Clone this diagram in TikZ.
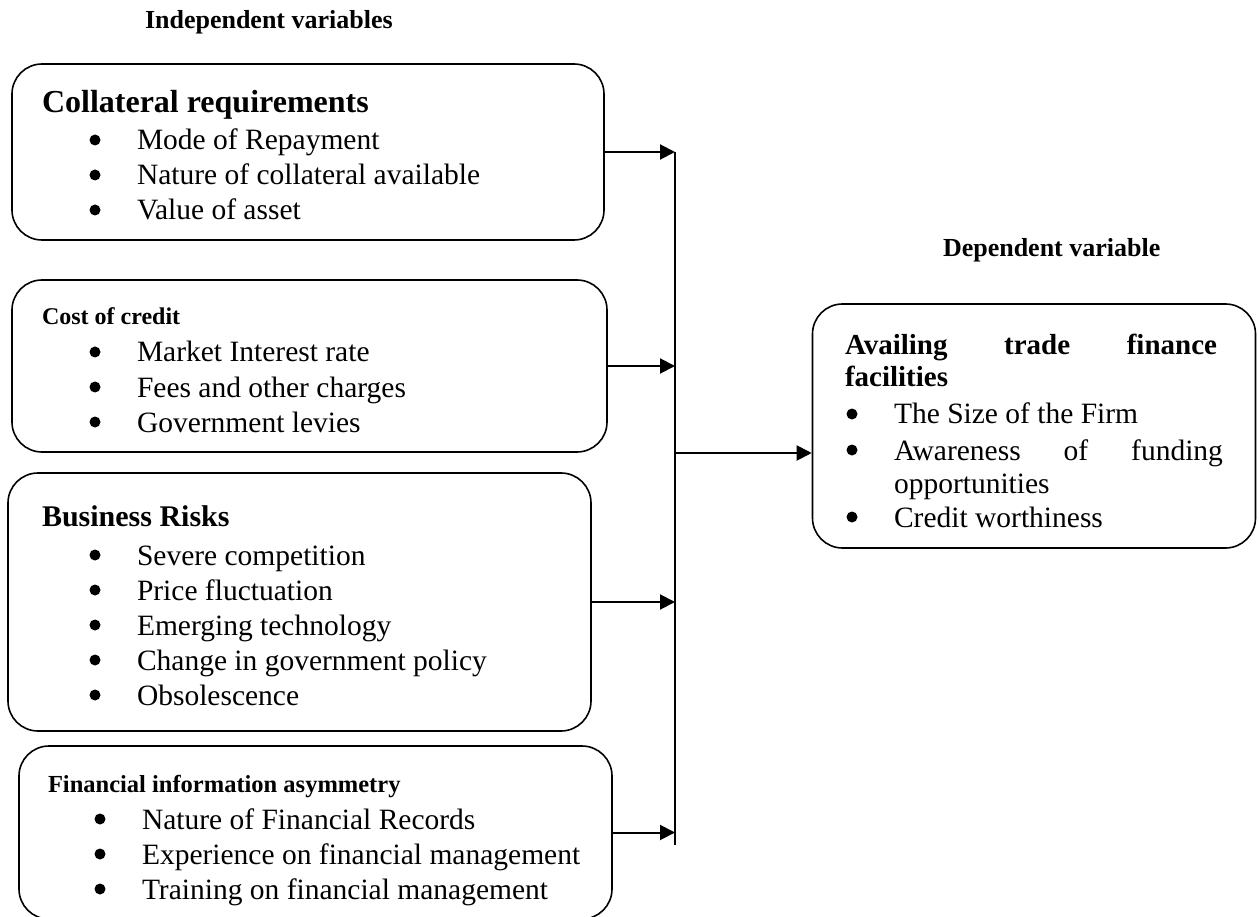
\documentclass[tikz,border=0pt]{standalone}
\usepackage{fontspec}
\setmainfont{Liberation Serif}
\usetikzlibrary{arrows.meta}
\tikzset{
  box/.style={draw, line width=1.6pt, rounded corners=30pt, inner sep=0pt},
  txt/.style={anchor=base west, inner sep=0pt, outer sep=0pt},
  body/.style={txt, font=\fontsize{29.5}{35}\selectfont},
  dot/.style={circle, fill, inner sep=0pt, minimum size=11pt},
  arr/.style={line width=2pt, -{Triangle[length=15pt,width=15pt]}},
  bus/.style={line width=1.6pt}
}
% bullet line: name, x of bullet left, baseline y, text
\newcommand{\bline}[4]{%
  \node[dot] (#1d) at (#2+5,#3-10) {};
  \node[body] (#1) at (#2+47,#3) {#4};}
\begin{document}
\begin{tikzpicture}[x=1pt,y=-1pt]
\useasboundingbox (0,0) rectangle (1259,917);
% boxes
\node[box, minimum width=592pt, minimum height=176pt] (b1) at (308,152) {};
\node[box, minimum width=595pt, minimum height=172pt] (b2) at (309.5,366) {};
\node[box, minimum width=583pt, minimum height=258pt] (b3) at (299.5,602) {};
\node[box, minimum width=593pt, minimum height=173pt] (b4) at (315.5,832.5) {};
\node[box, minimum width=443pt, minimum height=244pt] (rb) at (1034,426) {};
% titles
\node[txt, font=\bfseries\fontsize{26}{30}\selectfont] (ind) at (145,29) {Independent variables};
\node[txt, font=\bfseries\fontsize{26}{30}\selectfont] (dep) at (943,257) {Dependent variable};
% box 1
\node[txt, font=\bfseries\fontsize{32}{36}\selectfont] (h1) at (42,113) {Collateral requirements};
\bline{a1}{90}{150}{Mode of Repayment}
\bline{a2}{90}{185}{Nature of collateral available}
\bline{a3}{90}{220}{Value of asset}
% box 2
\node[txt, font=\bfseries\fontsize{24}{28}\selectfont] (h2) at (42,325) {Cost of credit};
\bline{c1}{90}{362}{Market Interest rate}
\bline{c2}{90}{397}{Fees and other charges}
\bline{c3}{90}{432}{Government levies}
% box 3
\node[txt, font=\bfseries\fontsize{30}{34}\selectfont] (h3) at (42,526) {Business Risks};
\bline{r1}{90}{565}{Severe competition}
\bline{r2}{90}{600}{Price fluctuation}
\bline{r3}{90}{635}{Emerging technology}
\bline{r4}{90}{670}{Change in government policy}
\bline{r5}{90}{705}{Obsolescence}
% box 4
\node[txt, font=\bfseries\fontsize{24.5}{28}\selectfont] (h4) at (48,792) {Financial information asymmetry};
\bline{f1}{95}{829}{Nature of Financial Records}
\bline{f2}{95}{864}{Experience on financial management}
\bline{f3}{95}{899}{Training on financial management}
% right box
\node[txt, font=\bfseries\fontsize{29}{33}\selectfont] (h5) at (845,355) {\makebox[372pt][l]{Availing\hfill trade\hfill finance}};
\node[txt, font=\bfseries\fontsize{29}{33}\selectfont] (h5b) at (845,387) {facilities};
\bline{d1}{847}{424}{The Size of the Firm}
\bline{d2}{847}{460}{\makebox[329pt][l]{Awareness\hfill of\hfill funding}}
\node[body] (d2b) at (894,493) {opportunities};
\bline{d3}{847}{527}{Credit worthiness}
% bus
\coordinate (bustop) at (675,152);
\coordinate (busbot) at (675,845);
\coordinate (busmid) at (675,453);
\draw[bus] (bustop) -- (busbot);
\draw[arr] (b1.east) -- (b1.east -| bustop);
\draw[arr] (b2.east) -- (b2.east -| bustop);
\draw[arr] (b3.east) -- (b3.east -| bustop);
\draw[arr] (b4.east) -- (b4.east -| bustop);
\draw[arr] (busmid) -- (busmid -| rb.west);
\end{tikzpicture}
\end{document}
